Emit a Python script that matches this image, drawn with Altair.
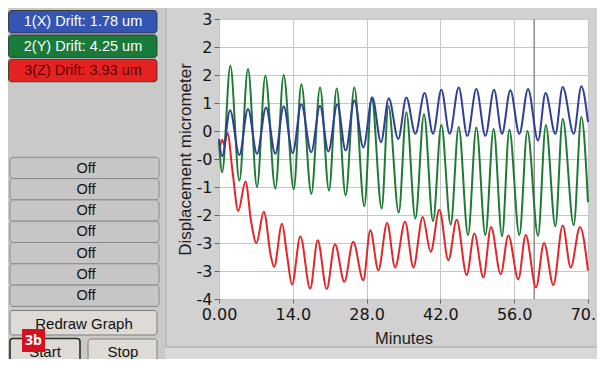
import altair as alt
import pandas as pd

# ---------------- data ----------------
x_ticks = [0, 14, 28, 42, 56, 70]
x_tick_labels = ["0.00", "14.0", "28.0", "42.0", "56.0", "70.0"]
y_ticks = [3, 2.3, 1.6, 0.9, 0.2, -0.5, -1.2, -1.9, -2.6, -3.3, -4]
y_tick_labels = ["3", "2", "2", "1", "0", "-0", "-1", "-2", "-3", "-3", "-4"]

green_t = [0.0, 0.6, 2.15, 3.86, 5.5, 7.21, 8.79, 10.69, 12.27, 14.17, 15.62, 17.52,
           19.16, 20.87, 22.32, 24.03, 25.67, 27.57, 28.96, 30.86, 32.13, 34.1, 35.54,
           37.25, 38.89, 40.6, 42.18, 43.95, 45.47, 47.24, 48.82, 50.53, 52.1, 53.69,
           55.08, 56.98, 58.5, 60.52, 62.0, 63.81, 65.2, 67.29, 68.74, 70.0]
green_v = [-0.08, -0.83, 1.83, -1.04, 1.75, -1.2, 1.58, -1.24, 1.6, -1.26, 1.37, -1.37,
           1.29, -1.29, 1.26, -1.41, 1.29, -1.68, 1.04, -1.74, 0.83, -1.84, 0.67,
           -1.99, 0.62, -2.05, 0.35, -2.14, 0.3, -2.4, 0.29, -2.4, 0.25, -2.43,
           0.23, -2.4, 0.2, -2.42, 0.35, -2.18, 0.5, -2.15, 0.55, -1.58]

blue_t = [0.0, 0.6, 2.1, 3.86, 5.5, 7.21, 8.92, 10.69, 12.27, 13.98, 15.62, 17.5,
          19.16, 20.74, 22.45, 24.03, 25.67, 27.38, 29.09, 30.73, 32.2, 34.0, 35.54,
          37.25, 39.0, 40.6, 42.18, 43.76, 45.47, 47.11, 48.82, 50.53, 52.17, 53.69,
          55.27, 56.98, 58.62, 60.52, 61.95, 63.81, 65.2, 67.29, 68.74, 70.0]
blue_v = [0.0, -0.43, 0.72, -0.4, 0.75, -0.37, 0.79, -0.37, 0.82, -0.35, 0.87, -0.33,
          0.83, -0.31, 0.87, -0.29, 0.96, -0.21, 1.04, -0.08, 1.02, 0.0, 1.04,
          0.13, 1.15, 0.13, 1.23, 0.13, 1.29, 0.08, 1.25, 0.08, 1.23, 0.13,
          1.22, 0.13, 1.25, -0.04, 1.15, 0.13, 1.3, 0.13, 1.32, 0.42]

red_t = [0.1, 0.6, 1.0, 1.6, 2.6, 3.65, 5.03, 6.1, 7.1, 8.5, 9.86, 10.45, 11.95,
         12.9, 13.85, 15.43, 17.3, 18.72, 20.43, 22.0, 23.78, 25.45, 27.38, 28.7,
         30.23, 31.9, 33.4, 35.3, 36.87, 38.64, 40.16, 41.8, 43.51, 45.09, 46.99,
         48.44, 50.15, 51.6, 53.44, 54.89, 56.79, 58.18, 60.14, 61.66, 63.43, 65.2,
         66.72, 68.49, 70.0]
red_v = [-0.25, -0.02, -0.15, 0.15, -0.85, -1.8, -1.06, -2.07, -2.6, -1.82, -2.95, -3.2,
         -2.12, -2.9, -3.64, -2.44, -3.74, -2.53, -3.75, -2.63, -3.57, -2.57, -3.53,
         -2.28, -3.28, -2.1, -3.21, -2.07, -3.21, -1.95, -2.82, -1.77, -3.03, -2.02,
         -3.4, -2.36, -3.46, -2.2, -3.38, -2.41, -3.51, -2.4, -3.71, -2.6, -3.65,
         -2.16, -3.21, -2.2, -3.29]

cursor_t = [59.8]

drift_labels = ["1(X) Drift: 1.78 um", "2(Y) Drift: 4.25 um", "3(Z) Drift: 3.93 um"]
channel_labels = ["Off", "Off", "Off", "Off", "Off", "Off", "Off"]
control_labels = ["Redraw Graph", "Start", "Stop"]
figure_tag = "3b"
x_title = "Minutes"
y_title = "Displacement micrometer"

# ---------------- layout / style ----------------
OX, OY = 219, 19          # page position of the plot area's origin
W, H = 369, 280
PANEL = "#d1d1d1"
LEFT_BG = "#c9c9c9"
UI_FONT = "Liberation Sans"
NUM_FONT = "DejaVu Sans"


def px(x):
    return x - OX


def py(y):
    return y - OY


def box(x0, y0, x1, y1, fill, stroke="#7a7a7a", sw=1, radius=3):
    return alt.Chart(pd.DataFrame({"k": [0]})).mark_rect(
        fill=fill, stroke=stroke, strokeWidth=sw, cornerRadius=radius
    ).encode(x=alt.value(px(x0)), x2=alt.value(px(x1)),
             y=alt.value(py(y0)), y2=alt.value(py(y1)))


def label(cx, cy, text, color="#111111", size=14, weight="normal", font=UI_FONT):
    return alt.Chart(pd.DataFrame({"label": [text]})).mark_text(
        font=font, fontSize=size, fontWeight=weight, color=color,
        align="center", baseline="middle"
    ).encode(x=alt.value(px(cx)), y=alt.value(py(cy)), text="label:N")


layers = []
# background areas outside the graph panel
layers.append(box(0, 0, 165, 400, LEFT_BG, stroke=LEFT_BG, sw=0, radius=0))
layers.append(box(165, 347, 620, 400, "#d9d9d9", stroke="#d9d9d9", sw=0, radius=0))
layers.append(box(166, 4, 601, 347, "transparent", stroke="#b4b4b4", sw=1.5, radius=0))

# drift indicators
drift_fill = ["#3555b3", "#197a3a", "#e52222"]
drift_text = ["#ffffff", "#ffffff", "#5a0000"]
for i, (lab, f, tc) in enumerate(zip(drift_labels, drift_fill, drift_text)):
    y0 = 10.5 + i * 24.4
    layers.append(box(8.5, y0, 157, y0 + 22.5, f, stroke="#2a2a2a", sw=0.8))
    layers.append(label(83, y0 + 11.8, lab, color=tc, size=14.5))

# channel buttons
for i, lab in enumerate(channel_labels):
    y0 = 157.3 + i * 21.3
    layers.append(box(10, y0, 159, y0 + 21.3, "#c6c6c6", stroke="#8a8a8a", sw=1))
    layers.append(label(86, y0 + 11.2, lab, size=14.5))

# control buttons
layers.append(box(10, 310.5, 157, 335, "#dedbd6", stroke="#7d7d7d", sw=1))
layers.append(label(84, 323.5, control_labels[0], size=15))
layers.append(box(10, 338.5, 80, 364, "#dedbd6", stroke="#2a2a2a", sw=1.6))
layers.append(label(45, 352, control_labels[1], size=15))
layers.append(box(88, 339, 157, 364, "#dedbd6", stroke="#7d7d7d", sw=1))
layers.append(label(123, 352, control_labels[2], size=15))
layers.append(box(22, 329, 45, 352, "#d5101f", stroke="#d5101f", sw=0, radius=0))
layers.append(label(33.5, 341, figure_tag, color="#ffffff", size=14, weight="bold",
                    font="Open Sans"))

# ---------------- graph ----------------
xscale = alt.Scale(domain=[0, 70], nice=False, zero=False)
yscale = alt.Scale(domain=[-4, 3], nice=False, zero=False)

x_expr = "[" + ",".join(f"'{s}'" for s in x_tick_labels) + "][indexof([" + \
    ",".join(str(v) for v in x_ticks) + "], datum.value)]"
y_expr = "[" + ",".join(f"'{s}'" for s in y_tick_labels) + "][indexof([" + \
    ",".join(str(v) for v in y_ticks) + "], datum.value)]"

xaxis = alt.Axis(values=x_ticks, labelExpr=x_expr, grid=True, gridColor="#c6c6c6",
                 gridWidth=1, domain=False, tickSize=4, tickColor="#666666",
                 labelFont=NUM_FONT, labelFontSize=16, labelColor="#151515",
                 labelPadding=16, labelBaseline="alphabetic", labelFlush=False,
                 labelOverlap=False, title=x_title, titleFont=UI_FONT,
                 titleFontSize=16.5, titleFontWeight="normal", titleColor="#202020",
                 titleY=44, titleBaseline="alphabetic")
yaxis = alt.Axis(values=y_ticks, labelExpr=y_expr, grid=True, gridColor="#c6c6c6",
                 gridWidth=1, domain=False, tickSize=5, tickColor="#666666",
                 labelFont=NUM_FONT, labelFontSize=16, labelColor="#151515",
                 labelPadding=2, labelFlush=False, labelOverlap=False,
                 title=y_title, titleFont=UI_FONT, titleFontSize=17,
                 titleFontWeight="normal", titleColor="#202020", titleAngle=270,
                 titleX=-29, titleY=H / 2, titleBaseline="alphabetic",
                 titleAlign="center")

cursor = alt.Chart(pd.DataFrame({"t": cursor_t})).mark_rule(
    color="#8e8e8e", strokeWidth=1.5
).encode(x=alt.X("t:Q", scale=xscale, axis=xaxis))
layers.append(cursor)

for t, v, c in [(red_t, red_v, "#e2262a"), (green_t, green_v, "#1f7a36"),
                (blue_t, blue_v, "#2f3f98")]:
    df = pd.DataFrame({"t": t, "v": v})
    layers.append(
        alt.Chart(df).mark_line(interpolate="monotone", strokeWidth=2, color=c)
        .encode(x=alt.X("t:Q", scale=xscale, axis=xaxis),
                y=alt.Y("v:Q", scale=yscale, axis=yaxis))
    )

chart = alt.layer(*layers).properties(
    width=W, height=H,
    autosize=alt.AutoSizeParams(type="none"),
    padding={"left": 211, "top": 11, "right": 9, "bottom": 60},
).configure(background=PANEL).configure_view(fill="white", stroke="transparent")

chart.save("out.html", embed_options={"renderer": "svg", "actions": False})
